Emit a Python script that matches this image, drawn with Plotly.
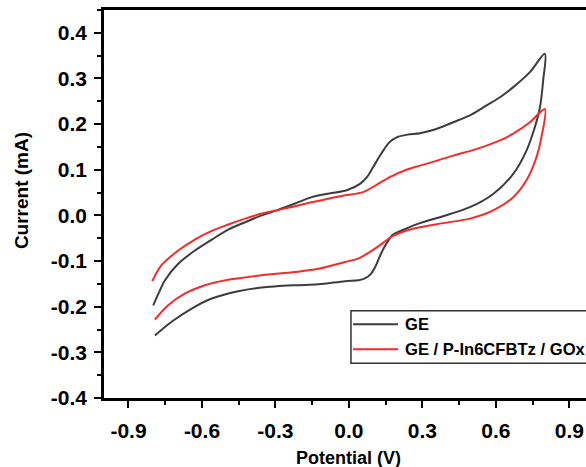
import plotly.graph_objects as go

# ---------------- data ----------------
ge_potential = [-0.799, -0.775, -0.751, -0.697, -0.629, -0.560, -0.493, -0.424, -0.356, -0.289, -0.220,
                -0.152, -0.08, -0.009, 0.045, 0.075, 0.099, 0.12, 0.140, 0.165, 0.195, 0.24, 0.290,
                0.36, 0.426, 0.50, 0.562, 0.62, 0.671, 0.739, 0.800,
                0.793, 0.780, 0.759, 0.725, 0.671, 0.589, 0.494, 0.371, 0.290, 0.22, 0.18, 0.155,
                0.13, 0.11, 0.09, 0.065, 0.04, -0.016, -0.125, -0.220, -0.356, -0.452, -0.560,
                -0.642, -0.724, -0.792]
ge_current = [-0.197, -0.168, -0.142, -0.106, -0.077, -0.053, -0.031, -0.015, 0.0, 0.012, 0.026,
              0.040, 0.048, 0.055, 0.069, 0.085, 0.106, 0.125, 0.142, 0.160, 0.171, 0.177, 0.180,
              0.190, 0.204, 0.221, 0.241, 0.260, 0.281, 0.314, 0.354,
              0.295, 0.237, 0.193, 0.142, 0.091, 0.047, 0.018, -0.004, -0.017, -0.032, -0.042, -0.060,
              -0.085, -0.110, -0.128, -0.138, -0.142, -0.144, -0.151, -0.153, -0.158, -0.166, -0.182,
              -0.204, -0.233, -0.263]

mod_potential = [-0.803, -0.765, -0.697, -0.629, -0.560, -0.493, -0.424, -0.356, -0.289, -0.220, -0.152,
                 -0.08, -0.016, 0.058, 0.11, 0.167, 0.23, 0.290, 0.36, 0.426, 0.50, 0.562, 0.62,
                 0.671, 0.739, 0.800,
                 0.786, 0.766, 0.725, 0.671, 0.589, 0.494, 0.371, 0.290, 0.23, 0.18, 0.13, 0.086,
                 0.04, -0.016, -0.125, -0.220, -0.356, -0.493, -0.588, -0.669, -0.738, -0.792]
mod_current = [-0.144, -0.109, -0.077, -0.053, -0.034, -0.020, -0.007, 0.004, 0.012, 0.020, 0.029,
               0.037, 0.044, 0.051, 0.066, 0.084, 0.099, 0.109, 0.120, 0.131, 0.142, 0.153, 0.165,
               0.179, 0.204, 0.233,
               0.171, 0.128, 0.077, 0.040, 0.011, -0.007, -0.018, -0.026, -0.034, -0.045, -0.064, -0.080,
               -0.094, -0.102, -0.117, -0.124, -0.131, -0.141, -0.153, -0.171, -0.197, -0.228]

series_names = ["GE", "GE / P-In6CFBTz / GOx"]
series_colors = ["#3c3c3c", "#f52a2a"]

x_tick_values = [-0.9, -0.6, -0.3, 0.0, 0.3, 0.6, 0.9]
x_tick_labels = ["-0.9", "-0.6", "-0.3", "0.0", "0.3", "0.6", "0.9"]
y_tick_values = [-0.4, -0.3, -0.2, -0.1, 0.0, 0.1, 0.2, 0.3, 0.4]
y_tick_labels = ["-0.4", "-0.3", "-0.2", "-0.1", "0.0", "0.1", "0.2", "0.3", "0.4"]

x_title = "Potential (V)"
y_title = "Current (mA)"

FONT = "Arial, 'Liberation Sans', sans-serif"

fig = go.Figure()
for xs, ys, name, col in [(ge_potential, ge_current, series_names[0], series_colors[0]),
                          (mod_potential, mod_current, series_names[1], series_colors[1])]:
    fig.add_trace(go.Scatter(x=xs, y=ys, mode="lines", name=name,
                             line=dict(color=col, width=2, shape="spline", smoothing=0.9),
                             showlegend=False))

axis_common = dict(showgrid=False, zeroline=False, showline=True, linecolor="black", linewidth=2.5,
                   ticks="outside", ticklen=7, tickwidth=2, tickcolor="black",
                   tickfont=dict(family=FONT, size=21, color="black", weight="bold"))

fig.update_xaxes(range=[-1.0, 0.968], tickvals=x_tick_values, ticktext=x_tick_labels, mirror=True,
                 minor=dict(ticks="outside", ticklen=4, tickwidth=2, tickcolor="black", dtick=0.15, tick0=-0.9),
                 ticklabelstandoff=5, **axis_common)
fig.update_yaxes(range=[-0.4, 0.45], tickvals=y_tick_values, ticktext=y_tick_labels,
                 minor=dict(ticks="outside", ticklen=4, tickwidth=2, tickcolor="black", dtick=0.05, tick0=0),
                 ticklabelstandoff=3, **axis_common)

# legend drawn manually (box, samples, labels)
leg_x0, leg_x1, leg_y0, leg_y1 = 0.5124, 1.05, 0.0894, 0.225
fig.add_shape(type="rect", xref="paper", yref="paper", x0=leg_x0, x1=leg_x1, y0=leg_y0, y1=leg_y1,
              line=dict(color="#333333", width=1.5), fillcolor="rgba(0,0,0,0)")
for i, (name, col) in enumerate(zip(series_names, series_colors)):
    yy = [0.19, 0.1255][i]
    fig.add_shape(type="line", xref="paper", yref="paper", x0=0.5166, x1=0.61, y0=yy, y1=yy,
                  line=dict(color=col, width=2))
    fig.add_annotation(xref="paper", yref="paper", x=0.6203, y=yy, text=name, showarrow=False,
                       xanchor="left", yanchor="middle",
                       font=dict(family=FONT, size=16.6, color="black", weight="bold"))

fig.add_annotation(xref="paper", yref="paper", x=0.508, y=-0.1546, text=x_title, showarrow=False,
                   xanchor="center", yanchor="middle",
                   font=dict(family=FONT, size=18, color="black", weight="bold"))
fig.add_annotation(xref="paper", yref="paper", x=-0.172, y=0.5335, text=y_title, showarrow=False,
                   textangle=-90, xanchor="center", yanchor="middle",
                   font=dict(family=FONT, size=19, color="black", weight="bold"))

fig.update_layout(width=586, height=467, margin=dict(l=104, r=0, t=10, b=69),
                  paper_bgcolor="white", plot_bgcolor="white", showlegend=False)

fig.write_html("out.html")
